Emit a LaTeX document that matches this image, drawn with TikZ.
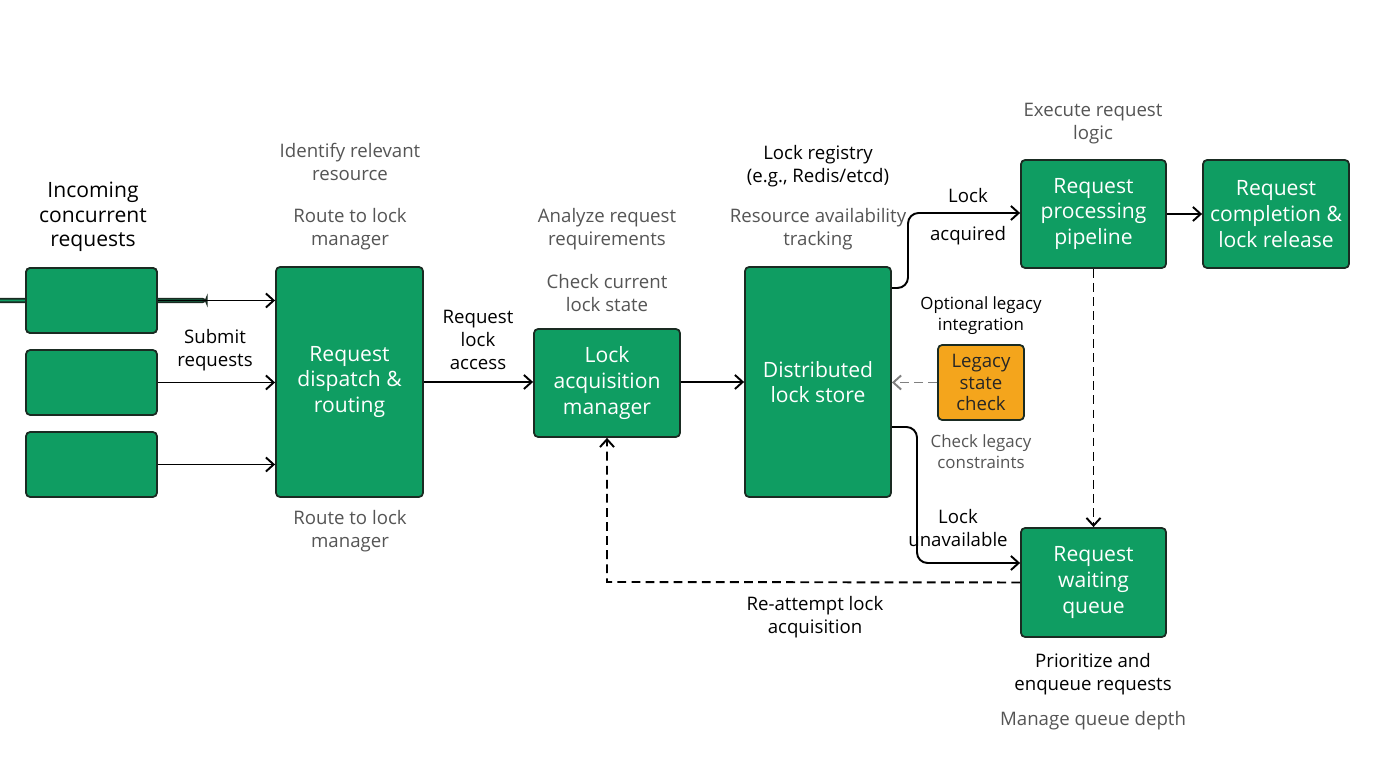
\documentclass[tikz,border=0pt]{standalone}
\usepackage{fontspec}
\setmainfont{Open Sans}
\usetikzlibrary{arrows.meta}
\definecolor{gbox}{HTML}{0F9D62}
\definecolor{gline}{HTML}{1A2B22}
\definecolor{obox}{HTML}{F4A51C}
\definecolor{gtext}{HTML}{555555}
\tikzset{
 x=0.01cm,y=-0.01cm,
 box/.style={draw=gline,line width=0.5pt,fill=gbox,rounded corners=1.2pt,text=white,align=center,font=\fontsize{6}{7.3}\selectfont,inner sep=0pt},
 lbl/.style={align=center,font=\fontsize{5.3}{6.5}\selectfont,text=black},
 glbl/.style={lbl,text=gtext},
 arr/.style={-{Straight Barb[length=2.2pt,width=4pt]},line width=0.55pt,black},
 darr/.style={arr,dashed,dash pattern=on 2.5pt off 1.5pt},
}
\begin{document}
\begin{tikzpicture}
\useasboundingbox (0,0) rectangle (1376,768);
\fill[white] (0,0) rectangle (1376,768);
\node[box,minimum width=131\pgflinewidth] (s1) at (91.5,300.5) {}; 
\path[box] (26,268) rectangle (157,333) coordinate (s1e);
\node[box,minimum width=1.31cm,minimum height=0.65cm] (a1) at (91.5,300.5) {};
\node[box,minimum width=1.31cm,minimum height=0.65cm] (a2) at (91.5,382.5) {};
\node[box,minimum width=1.31cm,minimum height=0.65cm] (a3) at (91.5,464.5) {};
\node[box,minimum width=1.47cm,minimum height=2.30cm] (disp) at (349.5,382) {Request\\dispatch \&\\routing};
\node[box,minimum width=1.46cm,minimum height=1.08cm] (lam) at (607,383) {Lock\\acquisition\\manager};
\node[box,minimum width=1.46cm,minimum height=2.30cm] (dls) at (818,382) {Distributed\\lock store};
\node[box,minimum width=1.45cm,minimum height=1.08cm] (rpp) at (1093.5,214) {Request\\processing\\pipeline};
\node[box,minimum width=1.46cm,minimum height=1.08cm] (rcl) at (1276,214) {Request\\completion \&\\lock release};
\node[box,fill=obox,text=black!85,minimum width=0.86cm,minimum height=0.75cm,font=\fontsize{5.3}{6}\selectfont] (leg) at (981,382.5) {Legacy\\state\\check};
\node[box,minimum width=1.45cm,minimum height=1.09cm] (rwq) at (1093.5,582.5) {Request\\waiting\\queue};

\node[lbl,font=\fontsize{6}{7}\selectfont] (t1) at (93,217) {Incoming\\concurrent\\requests};
\node[glbl] (t2) at (350,162) {Identify relevant\\resource};
\node[glbl] (t3) at (350,229) {Route to lock\\manager};
\node[glbl] (t4) at (350,531) {Route to lock\\manager};
\node[lbl] (t5) at (215,350) {Submit\\requests};
\node[lbl] (t6) at (478,340) {Request\\lock\\access};
\node[glbl] (t7) at (607,229) {Analyze request\\requirements};
\node[glbl] (t8) at (607,293) {Check current\\lock state};
\node[lbl] (t9) at (818,166) {Lock registry\\(e.g., Redis/etcd)};
\node[glbl] (t10) at (818,229) {Resource availability\\tracking};
\node[lbl] (t11) at (968,196) {Lock};
\node[lbl] (t12) at (968,236) {acquired};
\node[glbl] (t13) at (1093,124) {Execute request\\logic};
\node[lbl,font=\fontsize{4.8}{5.9}\selectfont] (t14) at (981,316) {Optional legacy\\integration};
\node[glbl,font=\fontsize{4.8}{5.9}\selectfont] (t15) at (981,452) {Check legacy\\constraints};
\node[lbl] (t16) at (958,528) {Lock\\unavailable};
\node[lbl] (t17) at (815,617) {Re-attempt lock\\acquisition};
\node[lbl] (t18) at (1093,674) {Prioritize and\\enqueue requests};
\node[glbl] (t19) at (1093,721) {Manage queue depth};

\draw[arr] (a1.east) -- (a1.east -| disp.west);
\draw[arr] (a2.east) -- (a2.east -| disp.west);
\draw[arr] (a3.east) -- (a3.east -| disp.west);
\draw[arr] (disp.east |- 0,382) -- (lam.west |- 0,382);
\draw[arr] (lam.east |- 0,382) -- (dls.west |- 0,382);
\draw[arr,rounded corners=3pt] (dls.east |- 0,288) -- (908,288) -- (908,213) -- (rpp.west |- 0,213);
\draw[arr] (rpp.east) -- (rcl.west);
\draw[arr,rounded corners=3pt] (dls.east |- 0,427) -- (917,427) -- (917,563) -- (rwq.west |- 0,563);
\draw[darr,gray] (leg.west) -- (dls.east |- leg.west);
\draw[darr] (rpp.south) -- (rwq.north);
\draw[darr] (rwq.west) -- (607,582) -- (lam.south);
\end{tikzpicture}
\end{document}
